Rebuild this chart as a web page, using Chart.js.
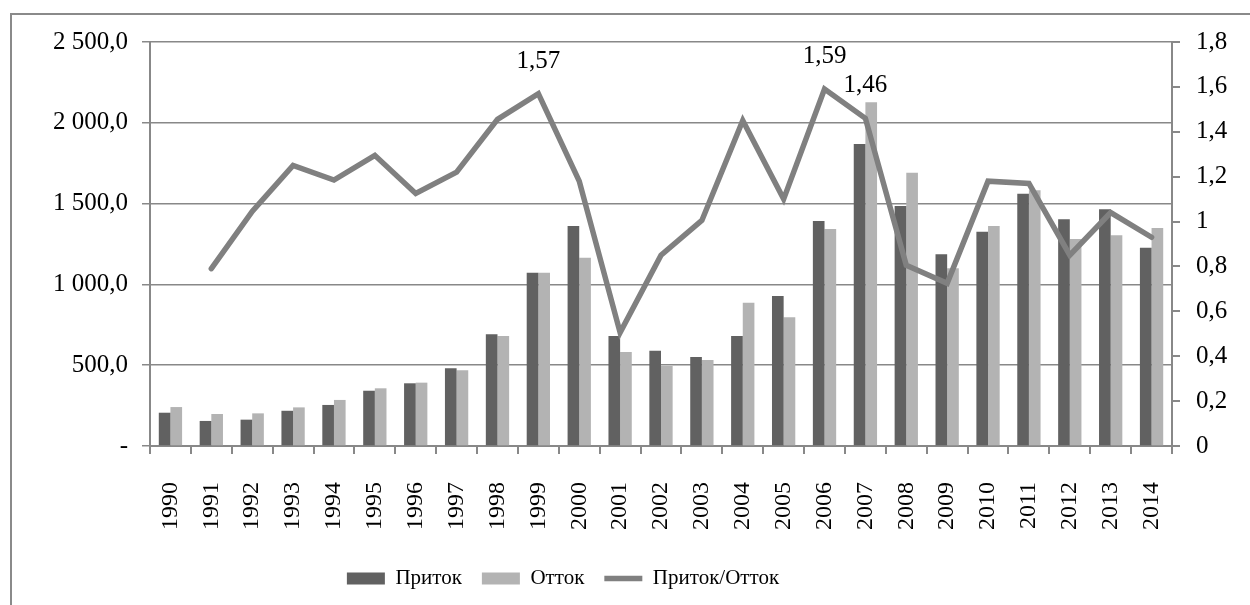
<!DOCTYPE html>
<html lang="ru">
<head>
<meta charset="UTF-8">
<title>Приток / Отток</title>
<script src="https://cdn.jsdelivr.net/npm/chart.js@4.4.1/dist/chart.umd.min.js"></script>
<style>
  html, body { margin: 0; padding: 0; background: #fff; }
  #wrap { width: 1250px; height: 605px; }
</style>
</head>
<body>
<div id="wrap"><canvas id="graph" width="1250" height="605"></canvas></div>
<script>
const years = ['1990','1991','1992','1993','1994','1995','1996','1997','1998','1999','2000','2001','2002',
               '2003','2004','2005','2006','2007','2008','2009','2010','2011','2012','2013','2014'];
const inflow  = [206, 155, 163, 218, 254, 342, 388, 481, 691, 1072, 1361, 681, 590,
                 551, 681, 928, 1392, 1869, 1485, 1186, 1326, 1561, 1403, 1465, 1227];
const outflow = [241, 198, 202, 239, 285, 357, 392, 468, 681, 1072, 1165, 582, 495,
                 532, 887, 796, 1343, 2127, 1691, 1100, 1361, 1582, 1281, 1304, 1349];
const ratio   = [null, 0.79, 1.045, 1.25, 1.185, 1.295, 1.125, 1.22, 1.455, 1.57, 1.18, 0.505, 0.85,
                 1.005, 1.45, 1.10, 1.59, 1.46, 0.805, 0.725, 1.18, 1.17, 0.85, 1.04, 0.93];
const labeledYears = ['1999', '2006', '2007'];

const gridGray = '#888888';
const serif = "'Liberation Serif', 'Times New Roman', serif";
Chart.defaults.font.family = serif;
Chart.defaults.color = '#000';

function fmtLeft(v) {
  if (v === 0) return '-';
  const parts = v.toFixed(1).split('.');
  return parts[0].replace(/\B(?=(\d{3})+(?!\d))/g, ' ') + ',' + parts[1];
}
function fmtRight(v) {
  return String(Math.round(v * 10) / 10).replace('.', ',');
}

// frame around the whole chart, like the original object border
const framePlugin = {
  id: 'frame',
  beforeDraw(chart) {
    const c = chart.ctx;
    c.save();
    c.strokeStyle = '#8a8a8a';
    c.lineWidth = 2;
    c.strokeRect(11, 14, 1400, 800);
    c.restore();
  }
};

// value labels over selected points of the ratio line
const pointLabels = {
  id: 'pointLabels',
  afterDatasetsDraw(chart) {
    const meta = chart.getDatasetMeta(2);
    const c = chart.ctx;
    c.save();
    c.font = '25px ' + serif;
    c.fillStyle = '#000';
    c.textAlign = 'center';
    c.textBaseline = 'bottom';
    labeledYears.forEach(y => {
      const i = years.indexOf(y);
      const p = meta.data[i];
      c.fillText(ratio[i].toFixed(2).replace('.', ','), p.x, p.y - 20);
    });
    c.restore();
  }
};

// move legend a bit to the left, as in the original
const legendShift = {
  id: 'legendShift',
  beforeDraw(chart) {
    if (chart.legend) { chart.legend.left -= 62; chart.legend.right -= 62; }
  }
};

const ctx = document.getElementById('graph').getContext('2d');
new Chart(ctx, {
  type: 'bar',
  data: {
    labels: years,
    datasets: [
      { label: 'Приток', data: inflow, backgroundColor: '#616161', yAxisID: 'y',
        barPercentage: 1, categoryPercentage: 0.57, pointStyle: 'rect', order: 1 },
      { label: 'Отток', data: outflow, backgroundColor: '#b3b3b3', yAxisID: 'y',
        barPercentage: 1, categoryPercentage: 0.57, pointStyle: 'rect', order: 1 },
      { type: 'line', label: 'Приток/Отток', data: ratio, yAxisID: 'y1',
        borderColor: '#808080', backgroundColor: '#808080', borderWidth: 5.5,
        pointRadius: 0, tension: 0, borderCapStyle: 'round', borderJoinStyle: 'miter',
        pointStyle: 'line', order: 0 }
    ]
  },
  options: {
    responsive: false,
    animation: false,
    layout: { padding: { top: 42, right: 0, bottom: 6, left: 0 } },
    plugins: {
      tooltip: { enabled: false },
      legend: {
        position: 'bottom',
        labels: {
          usePointStyle: true,
          pointStyleWidth: 38,
          boxHeight: 12,
          padding: 20,
          font: { size: 21, family: serif },
          sort: (a, b) => a.datasetIndex - b.datasetIndex
        }
      }
    },
    scales: {
      x: {
        grid: { display: true, drawOnChartArea: false, offset: true, color: gridGray, lineWidth: 2, tickLength: 8 },
        border: { color: gridGray, width: 2 },
        ticks: { maxRotation: 90, minRotation: 90, padding: 28, autoSkip: false, font: { size: 24, family: serif } },
        afterFit(s) { s.height = 102; }
      },
      y: {
        position: 'left',
        min: 0, max: 2500,
        grid: { color: gridGray, lineWidth: 1.5, tickLength: 8 },
        border: { color: gridGray, width: 2 },
        ticks: { stepSize: 500, padding: 14, callback: fmtLeft, font: { size: 25, family: serif } },
        afterFit(s) { s.width = 150; }
      },
      y1: {
        position: 'right',
        min: 0, max: 1.8,
        grid: { drawOnChartArea: false, color: gridGray, lineWidth: 2, tickLength: 8 },
        border: { color: gridGray, width: 2 },
        ticks: { stepSize: 0.2, padding: 16, callback: fmtRight, font: { size: 25, family: serif } },
        afterFit(s) { s.width = 78; }
      }
    }
  },
  plugins: [framePlugin, pointLabels, legendShift]
});
</script>
</body>
</html>
